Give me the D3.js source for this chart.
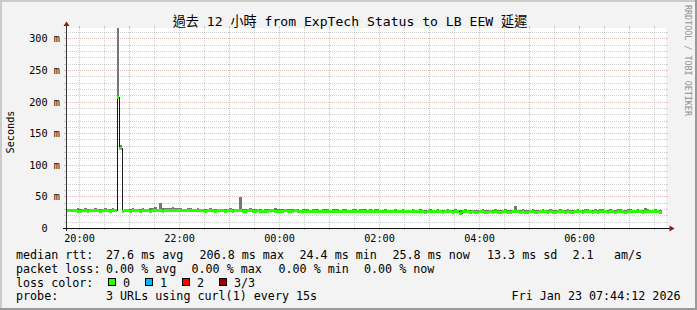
<!DOCTYPE html>
<html><head><meta charset="utf-8">
<script src="https://cdn.jsdelivr.net/npm/d3@7"></script>
<style>
body{margin:0;background:#f3f3f3}
svg{display:block}
text{font-family:"DejaVu Sans Mono","Noto Sans CJK TC",monospace;fill:#000}
</style>
</head><body>
<svg id="c" width="697" height="310"></svg>
<script>
// ---------- data ----------
const title = "過去 12 小時 from ExpTech Status to LB EEW 延遲";
const yAxisTitle = "Seconds";
const watermark = "RRDTOOL / TOBI OETIKER";
const timeStart = Date.UTC(2026, 0, 22, 19, 44, 12);
const timeEnd = Date.UTC(2026, 0, 23, 7, 44, 12);
const binStart = Date.UTC(2026, 0, 22, 19, 45, 0);
const binSeconds = 180;
const yMax = 316.3; // ms
const yTickValues = [0, 50, 100, 150, 200, 250, 300];
const yTickLabels = ["0\u00a0\u00a0", "50 m", "100 m", "150 m", "200 m", "250 m", "300 m"];
const xTickLabels = ["20:00", "22:00", "00:00", "02:00", "04:00", "06:00"];

// median rtt per 3-minute bin (ms)
const median = [
28.1,27.8,28.4,27.9,27.2,27.6,28.3,28.0,27.5,27.9,28.6,28.2,27.7,27.4,28.0,28.3,27.8,27.5,28.1,27.9,
206.8,126.2,
27.3,27.8,28.2,27.6,27.9,28.4,28.0,27.5,27.7,28.1,27.8,27.4,27.9,28.3,28.6,28.0,27.6,28.2,
28.3,27.9,28.5,28.8,28.2,27.7,28.4,28.9,28.6,28.1,28.4,28.0,27.8,28.3,28.1,27.6,27.9,28.2,27.8,27.5,
27.9,28.1,27.7,27.4,27.8,28.0,27.6,27.9,28.2,27.8,27.5,27.3,27.7,28.0,27.6,27.4,27.8,27.5,27.2,27.6,
27.4,27.7,27.9,27.5,27.2,27.6,27.3,27.8,27.5,27.1,27.4,27.7,27.3,27.0,27.4,27.6,27.2,26.9,27.3,27.5,
27.1,26.8,27.2,27.4,27.0,26.7,27.1,27.3,26.9,26.6,27.0,27.2,26.8,26.5,26.9,27.1,26.7,26.9,27.2,26.8,
26.6,26.9,26.5,26.8,27.0,26.6,26.4,26.8,26.5,26.2,26.6,26.9,26.5,26.3,26.7,26.4,26.1,26.5,26.8,26.4,
26.2,26.6,26.3,26.0,26.4,26.7,26.3,26.1,26.5,26.2,25.9,26.3,26.6,26.2,26.0,26.4,26.1,24.4,26.2,26.5,
26.1,25.9,26.3,26.0,25.7,26.1,26.4,26.0,25.8,26.2,25.9,26.3,26.0,25.7,26.1,26.4,26.0,25.8,26.2,26.5,
26.1,25.9,26.3,26.0,25.7,26.2,26.4,26.0,25.8,26.1,26.5,26.2,25.9,26.3,26.0,25.8,26.2,26.5,26.1,25.9,
26.3,26.0,25.8,26.2,26.5,26.1,25.9,26.3,26.6,26.2,25.9,26.3,26.0,26.4,26.7,26.3,26.0,26.4,26.1,25.9,
26.3,26.6,26.2,26.0,26.4,26.7,26.3,26.1,26.5,26.2,26.0,26.4,26.7,26.3,26.1,26.5,26.2,25.8,null,null
];
// smoke: lowest and highest ping per bin (ms)
const smokeLo = [
26.4,26.9,26.5,25.8,26.2,26.7,26.3,26.6,25.9,26.4,26.8,26.1,26.0,26.3,26.5,25.7,26.2,26.4,26.0,26.3,
205.9,125.4,
26.0,26.4,26.1,25.7,26.3,26.6,26.2,25.8,26.1,26.5,26.0,25.9,26.3,26.6,26.8,26.2,25.9,26.5,
26.7,26.2,26.8,27.0,26.5,26.1,26.6,27.0,26.8,26.4,26.7,26.2,26.0,26.5,26.3,25.9,26.1,26.4,26.0,25.8,
26.1,26.4,25.9,25.6,26.0,26.3,25.8,26.1,26.4,26.0,25.7,25.5,25.9,26.2,25.8,25.6,26.0,25.7,25.4,25.8,
25.6,25.9,26.1,25.7,25.4,25.8,25.5,26.0,25.7,25.3,25.6,25.9,25.5,25.2,25.6,25.8,25.4,25.1,25.5,25.7,
25.3,25.0,25.4,25.6,25.2,24.9,25.3,25.5,25.1,24.8,25.2,25.4,25.0,24.7,25.1,25.3,24.9,25.1,25.4,25.0,
24.8,25.1,24.7,25.0,25.2,24.8,24.6,25.0,24.7,24.4,24.8,25.1,24.7,24.5,24.9,24.6,24.3,24.7,25.0,24.6,
24.4,24.8,24.5,24.2,24.6,24.9,24.5,24.3,24.7,24.4,24.1,24.5,24.8,24.4,24.2,24.6,24.3,23.0,24.4,24.7,
24.3,24.1,24.5,24.2,23.9,24.3,24.6,24.2,24.0,24.4,24.1,24.5,24.2,23.9,24.3,24.6,24.2,24.0,24.4,24.7,
24.3,24.1,24.5,24.2,23.9,24.4,24.6,24.2,24.0,24.3,24.7,24.4,24.1,24.5,24.2,24.0,24.4,24.7,24.3,24.1,
24.5,24.2,24.0,24.4,24.7,24.3,24.1,24.5,24.8,24.4,24.1,24.5,24.2,24.6,24.9,24.5,24.2,24.6,24.3,24.1,
24.5,24.8,24.4,24.2,24.6,24.9,24.5,24.3,24.7,24.4,24.2,24.6,24.9,24.5,24.3,24.7,24.4,24.2,null,null
];
const smokeHi = [
29.5,30.6,29.8,29.2,31.0,30.4,29.6,31.3,30.8,29.4,30.2,31.5,29.9,29.3,30.7,31.2,29.8,30.1,31.4,29.6,
420.0,131.0,
29.2,30.1,29.6,30.8,31.2,29.7,30.4,29.5,31.0,30.3,29.4,30.9,31.6,34.0,30.8,40.2,31.3,32.0,
32.2,31.8,32.5,31.6,32.3,32.0,30.4,29.8,30.9,31.3,29.6,30.2,31.0,29.5,30.6,29.9,30.8,31.2,29.7,30.3,
30.1,29.6,30.8,29.9,30.4,31.1,29.8,30.2,29.5,48.3,30.0,29.4,30.7,31.0,29.6,30.3,29.9,30.6,29.2,30.1,
29.8,30.4,29.6,30.9,29.3,30.0,29.7,30.5,29.4,29.9,30.6,29.5,30.2,29.1,29.8,30.4,29.6,29.0,29.7,30.3,
29.5,29.1,29.9,30.2,29.4,28.9,29.6,30.1,29.3,28.8,29.7,30.0,29.2,28.7,29.5,29.9,29.0,29.4,30.0,29.3,
29.0,29.6,28.8,29.3,29.9,29.1,28.7,29.5,29.0,28.6,29.2,29.8,29.0,28.7,29.4,29.1,28.5,29.0,29.6,29.1,
28.8,29.5,29.0,28.6,29.2,29.7,29.0,28.7,29.4,28.9,28.5,29.1,29.6,28.9,28.6,29.3,28.8,28.4,29.0,29.5,
28.9,28.6,29.2,28.8,28.4,29.0,29.5,28.8,28.5,29.1,28.7,29.3,28.9,28.4,29.0,29.6,28.8,28.5,29.2,34.1,
29.0,28.7,29.3,28.9,28.5,29.1,29.6,28.9,28.6,29.0,29.5,29.2,28.7,29.3,28.9,28.6,29.1,29.7,29.0,28.8,
29.3,28.9,28.6,29.2,29.6,29.0,28.7,29.3,29.8,29.1,28.8,29.4,29.0,29.5,29.9,29.2,28.9,29.4,29.0,28.7,
29.3,29.7,29.1,28.9,29.5,29.9,29.2,29.0,29.6,29.1,28.9,31.2,29.8,29.2,29.0,29.5,29.1,28.9,null,null
];

const rttStats = ["27.6 ms avg", "206.8 ms max", "24.4 ms min", "25.8 ms now", "13.3 ms sd", "2.1", "am/s"];
const lossStats = ["0.00 % avg", "0.00 % max", "0.00 % min", "0.00 % now"];
const lossLabels = ["0", "1", "2", "3/3"];
const lossColors = ["#26ff00", "#00b8ff", "#ff0000", "#a00000"];
const probeText = "3 URLs using curl(1) every 15s";
const stampText = "Fri Jan 23 07:44:12 2026";

// ---------- layout ----------
const W = 697, H = 310;
const P = {left: 66, right: 666, top: 28, bottom: 228};
const rttX = [106, 199.5, 299.5, 392.5, 487, 572.5, 614];
const lossX = [106, 191.5, 278.5, 364];
const boxX = [108.5, 145.5, 182.5, 219.5];
const legY = [259, 272.7, 286.5, 300.4];

const svg = d3.select("#c");
const x = d3.scaleUtc().domain([timeStart, timeEnd]).range([P.left, P.right]);
const y = d3.scaleLinear().domain([0, yMax]).range([P.bottom, P.top]);

svg.append("rect").attr("width", W).attr("height", H).attr("fill", "#f3f3f3");
svg.append("rect").attr("x", P.left).attr("y", P.top)
  .attr("width", P.right - P.left).attr("height", P.bottom - P.top).attr("fill", "#fff");

const gridMinor = "rgba(140,140,140,0.42)", gridMajor = "rgba(170,50,50,0.32)";
const g = svg.append("g").attr("shape-rendering", "crispEdges");

// horizontal grid
d3.range(10, yMax, 10).forEach(v => {
  const yy = Math.round(y(v)) + 0.5;
  const major = v % 50 === 0;
  const c = major ? gridMajor : gridMinor;
  g.append("line").attr("x1", P.left).attr("x2", P.right).attr("y1", yy).attr("y2", yy)
    .attr("stroke", c).attr("stroke-dasharray", "1,1");
  g.append("line").attr("x1", P.left - 2).attr("x2", P.left).attr("y1", yy).attr("y2", yy).attr("stroke", c);
  g.append("line").attr("x1", P.right).attr("x2", P.right + 2).attr("y1", yy).attr("y2", yy).attr("stroke", c);
});
// vertical grid
const vTimes = d3.utcMinute.every(30).range(new Date(timeStart), new Date(timeEnd));
vTimes.forEach(t => {
  const xx = Math.round(x(t)) + 0.5;
  const major = t.getUTCMinutes() === 0;
  const c = major ? gridMajor : gridMinor;
  g.append("line").attr("x1", xx).attr("x2", xx).attr("y1", P.top).attr("y2", P.bottom)
    .attr("stroke", c).attr("stroke-dasharray", "1,1");
  g.append("line").attr("x1", xx).attr("x2", xx).attr("y1", P.bottom).attr("y2", P.bottom + 2).attr("stroke", c);
  g.append("line").attr("x1", xx).attr("x2", xx).attr("y1", P.top - 2).attr("y2", P.top).attr("stroke", c);
});

// data
svg.append("clipPath").attr("id", "pc").append("rect")
  .attr("x", P.left).attr("y", P.top).attr("width", P.right - P.left).attr("height", P.bottom - P.top);
const dg = svg.append("g").attr("clip-path", "url(#pc)").attr("shape-rendering", "crispEdges");
const bins = median.map((m, i) => ({
  m, lo: smokeLo[i], hi: smokeHi[i],
  t0: new Date(binStart + i * binSeconds * 1000),
  t1: new Date(binStart + (i + 1) * binSeconds * 1000)
})).filter(d => d.m != null);

dg.selectAll("rect.smoke").data(bins).join("rect").attr("class", "smoke")
  .attr("x", d => Math.round(x(d.t0))).attr("width", d => Math.round(x(d.t1)) - Math.round(x(d.t0)))
  .attr("y", d => Math.round(y(d.hi))).attr("height", d => Math.max(0, Math.round(y(d.lo)) - Math.round(y(d.hi))))
  .attr("fill", "#777777");

const pts = bins.map(d => [Math.round(x(d.t0)), Math.round(y(d.m)) + 0.5]);
const last = bins[bins.length - 1];
pts.push([Math.round(x(last.t1)), Math.round(y(last.m)) + 0.5]);
dg.append("path").attr("d", d3.line().curve(d3.curveStepAfter)(pts))
  .attr("fill", "none").attr("stroke", "#1a1a1a").attr("stroke-width", 1);

dg.selectAll("rect.med").data(bins).join("rect").attr("class", "med")
  .attr("x", d => Math.round(x(d.t0))).attr("width", d => Math.round(x(d.t1)) - Math.round(x(d.t0)))
  .attr("y", d => Math.round(y(d.m)) - 1).attr("height", 3)
  .attr("fill", lossColors[0]);

// axes
const axisColor = "#333";
g.append("line").attr("x1", P.left + 0.5).attr("x2", P.left + 0.5).attr("y1", P.bottom + 3).attr("y2", P.top - 3)
  .attr("stroke", axisColor);
g.append("line").attr("x1", P.left - 3).attr("x2", P.right + 4).attr("y1", P.bottom + 0.5).attr("y2", P.bottom + 0.5)
  .attr("stroke", "#111");
const arrowColor = "#8b1c1c";
svg.append("path").attr("d", d3.line()([[P.left - 2.5, P.top - 2], [P.left + 3.5, P.top - 2], [P.left + 0.5, P.top - 6.5]]) + "Z")
  .attr("fill", arrowColor);
svg.append("path").attr("d", d3.line()([[P.right + 3.5, P.bottom - 2.5], [P.right + 3.5, P.bottom + 3.5], [P.right + 8.5, P.bottom + 0.5]]) + "Z")
  .attr("fill", arrowColor);

// tick labels
const axisFont = "10.2px";
yTickValues.forEach((v, i) => {
  svg.append("text").attr("x", 59.8).attr("y", Math.round(y(v)) + 0.5).attr("dy", "0.37em")
    .attr("text-anchor", "end").style("font-size", axisFont).text(yTickLabels[i]);
});
const xTicks = x.ticks(d3.utcHour.every(2));
xTicks.forEach((t, i) => {
  svg.append("text").attr("x", Math.round(x(t)) + 0.5).attr("y", 241.5)
    .attr("text-anchor", "middle").style("font-size", axisFont).text(xTickLabels[i]);
});

// titles
svg.append("text").attr("x", 350).attr("y", 25.5).attr("text-anchor", "middle")
  .style("font-size", "13.1px").text(title);
svg.append("text").attr("transform", "translate(14,132) rotate(-90)").attr("text-anchor", "middle")
  .style("font-size", axisFont).text(yAxisTitle);
svg.append("text").attr("transform", "translate(684.5,5) rotate(90)").attr("text-anchor", "start")
  .style("font-size", "8.4px").style("fill", "#8f8f8f").text(watermark);

// legend
const lf = "11.7px";
const addT = (tx, xx, yy, anchor) => svg.append("text").attr("x", xx).attr("y", yy)
  .attr("text-anchor", anchor || "start").style("font-size", lf).style("white-space", "pre").text(tx);
addT("median rtt:", 16, legY[0]);
rttStats.forEach((s, i) => addT(s, rttX[i], legY[0]));
addT("packet loss:", 16, legY[1]);
lossStats.forEach((s, i) => addT(s, lossX[i], legY[1]));
addT("loss color:", 16, legY[2]);
lossLabels.forEach((s, i) => {
  svg.append("rect").attr("x", boxX[i]).attr("y", legY[2] - 8).attr("width", 7).attr("height", 7)
    .attr("fill", lossColors[i]).attr("stroke", "#000").attr("stroke-width", 1);
  addT(s, boxX[i] + 14.5, legY[2]);
});
addT("probe:", 16, legY[3]);
addT(probeText, 106, legY[3]);
addT(stampText, 680.5, legY[3], "end");

// frame
const fr = svg.append("g").attr("shape-rendering", "crispEdges");
fr.append("rect").attr("x", 0).attr("y", 0).attr("width", W).attr("height", 2).attr("fill", "#cbcbcb");
fr.append("rect").attr("x", 0).attr("y", 0).attr("width", 2).attr("height", H).attr("fill", "#cbcbcb");
fr.append("rect").attr("x", W - 2).attr("y", 0).attr("width", 2).attr("height", H).attr("fill", "#999");
fr.append("rect").attr("x", 0).attr("y", H - 2).attr("width", W).attr("height", 2).attr("fill", "#999");
</script>
</body></html>
